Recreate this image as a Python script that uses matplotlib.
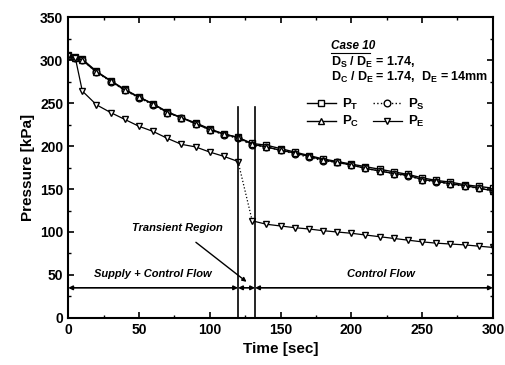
import matplotlib
matplotlib.use("Agg")
import matplotlib.pyplot as plt
from matplotlib.ticker import MultipleLocator

plt.rcParams["font.family"] = ["Liberation Sans", "DejaVu Sans"]
plt.rcParams["font.weight"] = "bold"
plt.rcParams["mathtext.fontset"] = "custom"
plt.rcParams["mathtext.rm"] = "Liberation Sans:bold"
plt.rcParams["mathtext.it"] = "Liberation Sans:bold"
plt.rcParams["mathtext.bf"] = "Liberation Sans:bold"

# ── Data ──────────────────────────────────────────────────────────────────
time = [0, 5, 10, 20, 30, 40, 50, 60, 70, 80, 90, 100, 110, 120,
        130, 140, 150, 160, 170, 180, 190, 200, 210, 220, 230, 240,
        250, 260, 270, 280, 290, 300]
p_t = [306, 304, 301, 287, 276, 266, 257, 249, 240, 233, 227, 220, 214, 210,
       203, 201, 197, 193, 189, 185, 182, 179, 176, 173, 170, 167,
       163, 160, 158, 155, 153, 151]
p_s = [305, 303, 300, 286, 275, 265, 256, 248, 239, 233, 226, 219, 213, 209,
       201, 199, 195, 191, 187, 183, 181, 178, 174, 171, 168, 165,
       161, 158, 156, 153, 151, 148]
p_c = [305, 303, 300, 286, 276, 265, 257, 249, 239, 233, 226, 219, 214, 210,
       202, 199, 195, 192, 188, 184, 181, 178, 174, 171, 168, 166,
       161, 159, 156, 154, 151, 148]
p_e = [305, 303, 264, 248, 239, 231, 223, 217, 209, 202, 199, 193, 188, 182,
       113, 109, 107, 105, 103.5, 101.5, 100, 98.5, 96.5, 94.5, 92.5, 90.5,
       88.5, 87, 86, 85, 83.5, 82]

t_switch = [120, 132]     # transient region boundaries
flow_level = 35           # pressure level of the region arrows

fig = plt.figure(figsize=(5.05, 3.65), dpi=100)
ax = fig.add_axes([0.135, 0.129, 0.841, 0.824])

mk = dict(markersize=4.8, markerfacecolor="white", markeredgecolor="black",
          markeredgewidth=1.0, color="black")
h_t, = ax.plot(time, p_t, "-", marker="s", lw=1.0, label="$P_T$", **mk)
h_s, = ax.plot(time, p_s, ":", marker="o", lw=1.0, label="$P_S$", **mk)
h_c, = ax.plot(time, p_c, "-", marker="^", lw=1.0, label="$P_C$", **mk)
h_e, = ax.plot(time[:14], p_e[:14], "-", marker="v", lw=0.9, label="$P_E$",
               **mk)
ax.plot(time[13:15], p_e[13:15], ":", lw=0.9, color="black")
ax.plot(time[14:], p_e[14:], "-", marker="v", lw=0.9, **mk)

for x in t_switch:
    ax.axvline(x, ymin=0, ymax=245 / 350, color="black", lw=1.2)

# region arrows
bounds = [0] + t_switch + [300]
for a, b in zip(bounds[:-1], bounds[1:]):
    ax.annotate("", xy=(b, flow_level), xytext=(a, flow_level),
                arrowprops=dict(arrowstyle="<|-|>", color="black", lw=1.2,
                                mutation_scale=6, shrinkA=0, shrinkB=0))

ax.text(60, 51, "Supply + Control Flow", ha="center", va="center",
        fontsize=8, style="italic")
ax.text(221, 51, "Control Flow", ha="center", va="center",
        fontsize=8, style="italic")
ax.annotate("Transient Region", xy=(126, 42), xytext=(77, 105),
            ha="center", va="center", fontsize=8, style="italic",
            arrowprops=dict(arrowstyle="-|>", color="black", lw=1.0,
                            mutation_scale=6, shrinkA=8, shrinkB=0))

ax.text(186, 316, "Case 10", fontsize=8.5, style="italic", ha="left",
        va="center")
ax.plot([186, 213], [308.5, 308.5], color="black", lw=0.8)
ax.text(186, 297, "$D_S$ / $D_E$ = 1.74,", fontsize=9, ha="left",
        va="center")
ax.text(186, 280, "$D_C$ / $D_E$ = 1.74,  $D_E$ = 14mm", fontsize=9,
        ha="left", va="center")

# column-first order gives rows (P_T, P_S) and (P_C, P_E)
leg = ax.legend(handles=[h_t, h_c, h_s, h_e], loc="upper left",
                bbox_to_anchor=(0.54, 0.765), ncol=2, frameon=False,
                fontsize=9.5, handlelength=2.2, handletextpad=0.5,
                columnspacing=1.0, labelspacing=0.15, borderpad=0.2)

ax.set_xlim(0, 300)
ax.set_ylim(0, 350)
ax.xaxis.set_major_locator(MultipleLocator(50))
ax.xaxis.set_minor_locator(MultipleLocator(25))
ax.yaxis.set_major_locator(MultipleLocator(50))
ax.yaxis.set_minor_locator(MultipleLocator(25))
ax.tick_params(which="both", direction="in", top=True, right=True,
               labelsize=10)
ax.tick_params(which="major", length=4, width=1.2)
ax.tick_params(which="minor", length=2.5, width=1.0)
for s in ax.spines.values():
    s.set_linewidth(1.5)

ax.set_xlabel("Time [sec]", fontsize=11, fontweight="bold")
ax.set_ylabel("Pressure [kPa]", fontsize=11, fontweight="bold")

fig.savefig("out.png", dpi=100)
